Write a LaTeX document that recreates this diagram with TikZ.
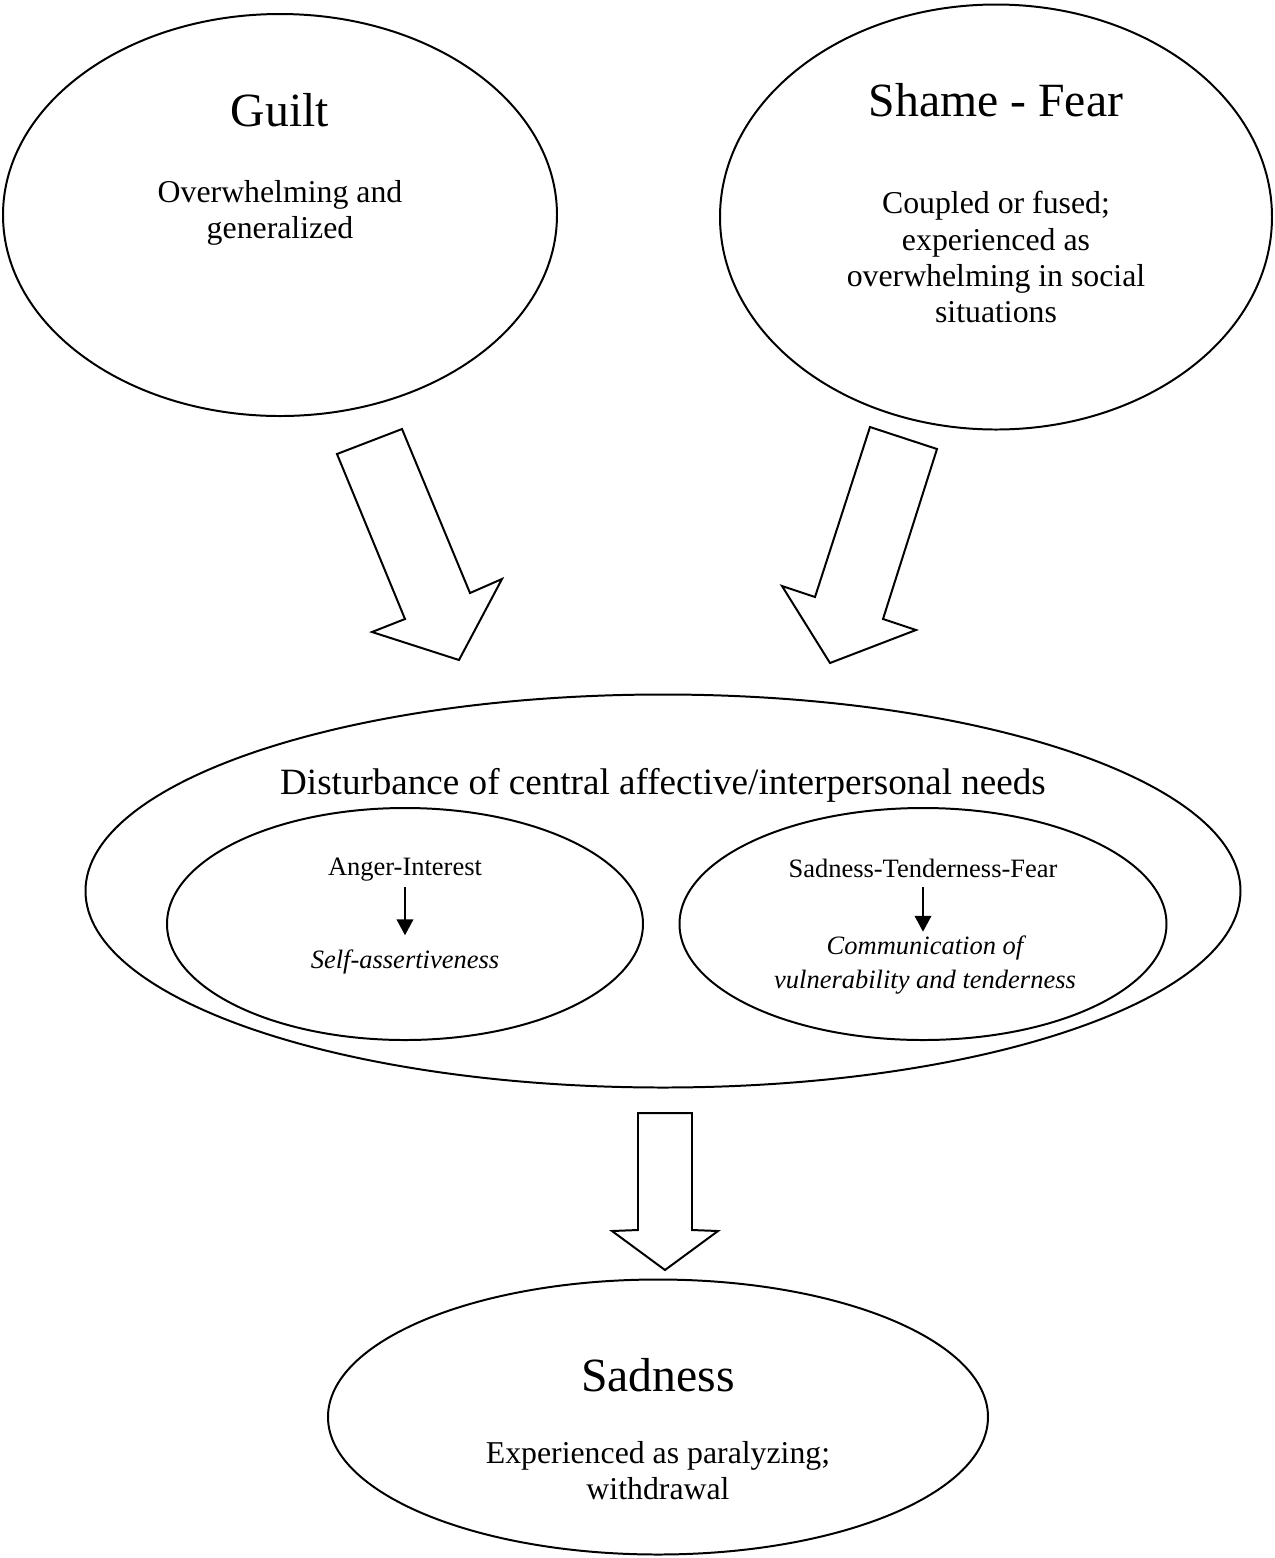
\documentclass[tikz,border=0pt]{standalone}
\usepackage{fontspec}
\setmainfont{Liberation Serif}
\usepackage{tikz}
\usetikzlibrary{shapes.geometric,arrows.meta}
\newcommand{\pxu}{0.3774pt}

\begin{document}
\begin{tikzpicture}[x=\pxu, y=-\pxu, line width=0.75pt,
  bubble/.style={draw, ellipse, inner sep=0pt},
  title/.style={font=\fontsize{18}{21}\selectfont},
  body/.style={font=\fontsize{12}{13.6}\selectfont, align=center},
  small/.style={font=\fontsize{10}{12.5}\selectfont, align=center},
  smallarrow/.style={line width=0.9pt, -{Triangle[width=6.2pt,length=6pt]}, shorten <=-1.5pt, shorten >=1.8pt},
  bigarrow/.style={draw, line join=miter}]
\useasboundingbox (0,0) rectangle (1274,1558);

% ellipses
\node[bubble, minimum width=554*\pxu, minimum height=402*\pxu] (guilt) at (280,215) {};
\node[bubble, minimum width=552*\pxu, minimum height=425*\pxu] (shame) at (996,217) {};
\node[bubble, minimum width=1155*\pxu, minimum height=393*\pxu] (needs) at (663,891) {};
\node[bubble, minimum width=476*\pxu, minimum height=232*\pxu] (anger) at (405,924) {};
\node[bubble, minimum width=487*\pxu, minimum height=232*\pxu] (tender) at (923,924) {};
\node[bubble, minimum width=660*\pxu, minimum height=275*\pxu] (sadness) at (658,1417) {};

% texts
\node[title] (guiltT) at (280,110) {Guilt};
\node[body] (guiltB) at (280,213) {Overwhelming and\\generalized};
\node[title] (shameT) at (996,100) {Shame - Fear};
\node[body] (shameB) at (996,257) {Coupled or fused;\\experienced as\\overwhelming in social\\situations};
\node[font=\fontsize{14}{16}\selectfont] (needsT) at (663,785) {Disturbance of central affective/interpersonal needs};
\node[small] (angerT) at (405,870) {Anger-Interest};
\node[small, font=\fontsize{10}{12.5}\selectfont\itshape] (angerB) at (405,962) {Self-assertiveness};
\node[small] (tenderT) at (923,868) {Sadness-Tenderness-Fear};
\node[small, font=\fontsize{10}{12.5}\selectfont\itshape] (tenderB) at (925,965) {Communication of\\vulnerability and tenderness};
\node[title] (sadT) at (658,1375) {Sadness};
\node[body] (sadB) at (658,1471) {Experienced as paralyzing;\\withdrawal};

% small arrows
\draw[smallarrow] (angerT.south) -- (angerT.south |- angerB.north);
\draw[smallarrow, shorten <=0pt, shorten >=-2pt] (tenderT.south) -- (tenderT.south |- tenderB.north);

% block arrows
\draw[bigarrow] (337,454) -- (402,429) -- (470,593) -- (502,579) -- (459,660) -- (372,632) -- (405,619) -- cycle;
\draw[bigarrow] (870,427) -- (937,449) -- (883,619) -- (916,630) -- (830,663) -- (782,586) -- (815,597) -- cycle;
\draw[bigarrow] (638,1113) -- (692,1113) -- (692,1230) -- (718,1231) -- (665,1270) -- (612,1231) -- (638,1230) -- cycle;
\end{tikzpicture}
\end{document}
